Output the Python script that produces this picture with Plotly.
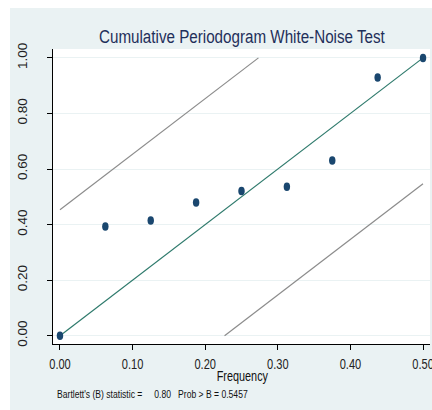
import plotly.graph_objects as go

# Cumulative periodogram values at the Fourier frequencies
frequency = [0.0, 0.0625, 0.125, 0.1875, 0.25, 0.3125, 0.375, 0.4375, 0.5]
cum_periodogram = [0.0, 0.393, 0.415, 0.479, 0.521, 0.536, 0.631, 0.929, 1.0]

# Bartlett band half-width and test statistic text
band = 0.4533
b_stat = 0.80
p_value = 0.5457

x_ticks = [0.0, 0.1, 0.2, 0.3, 0.4, 0.5]
y_ticks = [0.0, 0.2, 0.4, 0.6, 0.8, 1.0]

BG = "#EAF2F3"
NAVY = "#1A476F"
TEAL = "#2E7A6C"
GRAY = "#8C8C8C"
FONT = "Liberation Sans, Arial, sans-serif"

fig = go.Figure()

# upper and lower confidence bands (slope 2, clipped to [0, 1])
up_x = [0.0, (1.0 - band) / 2]
up_y = [band, 1.0]
lo_x = [band / 2, 0.5]
lo_y = [0.0, 2 * 0.5 - band]
fig.add_trace(go.Scatter(x=up_x, y=up_y, mode="lines",
                         line=dict(color=GRAY, width=1.2), hoverinfo="skip"))
fig.add_trace(go.Scatter(x=lo_x, y=lo_y, mode="lines",
                         line=dict(color=GRAY, width=1.2), hoverinfo="skip"))
# white-noise reference diagonal
fig.add_trace(go.Scatter(x=[0.0, 0.5], y=[0.0, 1.0], mode="lines",
                         line=dict(color=TEAL, width=1.2), hoverinfo="skip"))
# cumulative periodogram points
fig.add_trace(go.Scatter(x=frequency, y=cum_periodogram, mode="markers",
                         marker=dict(color=NAVY, size=8.5, symbol="circle")))

W, H = 432, 410
L, R, T, B = 53, 2, 49, 66
pw, ph = W - L - R, H - T - B


def px_x(p):
    return (p - L) / pw


def px_y(p):
    return (H - B - p) / ph


fig.update_layout(
    width=W, height=H,
    margin=dict(l=L, r=R, t=T, b=B, pad=0, autoexpand=False),
    paper_bgcolor=BG,
    plot_bgcolor="white",
    showlegend=False,
    xaxis=dict(
        range=[-0.0096, 0.5096], tickvals=x_ticks,
        ticktext=[f"{v:.2f}" for v in x_ticks],
        showgrid=False, zeroline=False, automargin=False,
        showline=True, linecolor="black", linewidth=1,
        ticks="outside", ticklen=5, tickcolor="black",
        ticklabelstandoff=2, ticklabeloverflow="allow",
        tickfont=dict(family=FONT, size=14, color="#222222"),
    ),
    yaxis=dict(
        range=[-0.030, 1.032], tickvals=y_ticks,
        ticktext=[f"{v:.2f}" for v in y_ticks],
        showgrid=True, gridcolor=BG, gridwidth=1, zeroline=False,
        automargin=False,
        showline=True, linecolor="black", linewidth=1,
        ticks="outside", ticklen=5, tickcolor="black",
        tickangle=-90, ticklabelstandoff=15,
        tickfont=dict(family=FONT, size=13.5, color="#222222"),
    ),
    shapes=[
        # white margin strips around the graph region
        dict(type="rect", xref="paper", yref="paper", layer="above",
             x0=px_x(0), x1=px_x(W), y0=px_y(0), y1=px_y(8),
             fillcolor="white", line=dict(width=0)),
        dict(type="rect", xref="paper", yref="paper", layer="above",
             x0=px_x(0), x1=px_x(10), y0=px_y(0), y1=px_y(H),
             fillcolor="white", line=dict(width=0)),
    ],
    annotations=[
        dict(text="Cumulative Periodogram White-Noise Test",
             xref="paper", yref="paper", x=0.5, y=px_y(36),
             xanchor="center", yanchor="middle", showarrow=False,
             font=dict(family=FONT, size=19, color="#1F2F5A")),
        dict(text="Frequency",
             xref="paper", yref="paper", x=px_x(242), y=px_y(376),
             xanchor="center", yanchor="middle", showarrow=False,
             font=dict(family=FONT, size=14.5, color="#111111")),
        dict(text=f"Bartlett's (B) statistic =     {b_stat:.2f}   Prob > B = {p_value:.4f}",
             xref="paper", yref="paper", x=px_x(55), y=px_y(394),
             xanchor="left", yanchor="middle", showarrow=False,
             font=dict(family=FONT, size=11, color="#111111")),
    ],
)

# Horizontal text and markers are drawn condensed (narrow glyphs, tall dots).
condense_js = """
(function () {
  function run() {
    var gd = document.getElementById('{plot_id}');
    if (!gd || gd.dataset.condensed) return;
    gd.dataset.condensed = '1';
    function squeeze(el, f, atStart) {
      var b = el.getBBox();
      var cx = atStart ? b.x : b.x + b.width / 2;
      var t = el.getAttribute('transform') || '';
      el.setAttribute('transform', t + ' translate(' + cx + ',0) scale(' + f + ',1) translate(' + (-cx) + ',0)');
    }
    var ann = gd.querySelectorAll('.annotation-text');
    if (ann[0]) squeeze(ann[0], 0.80, false);
    if (ann[1]) squeeze(ann[1], 0.75, false);
    if (ann[2]) squeeze(ann[2], 0.78, true);
    gd.querySelectorAll('.xtick text').forEach(function (el) { squeeze(el, 0.79, false); });
    gd.querySelectorAll('.scatterlayer .point').forEach(function (el) {
      var t = el.getAttribute('transform') || '';
      el.setAttribute('transform', t + ' scale(0.76,1)');
    });
  }
  run();
  requestAnimationFrame(run);
})();
"""

fig.write_html("out.html", post_script=condense_js)
